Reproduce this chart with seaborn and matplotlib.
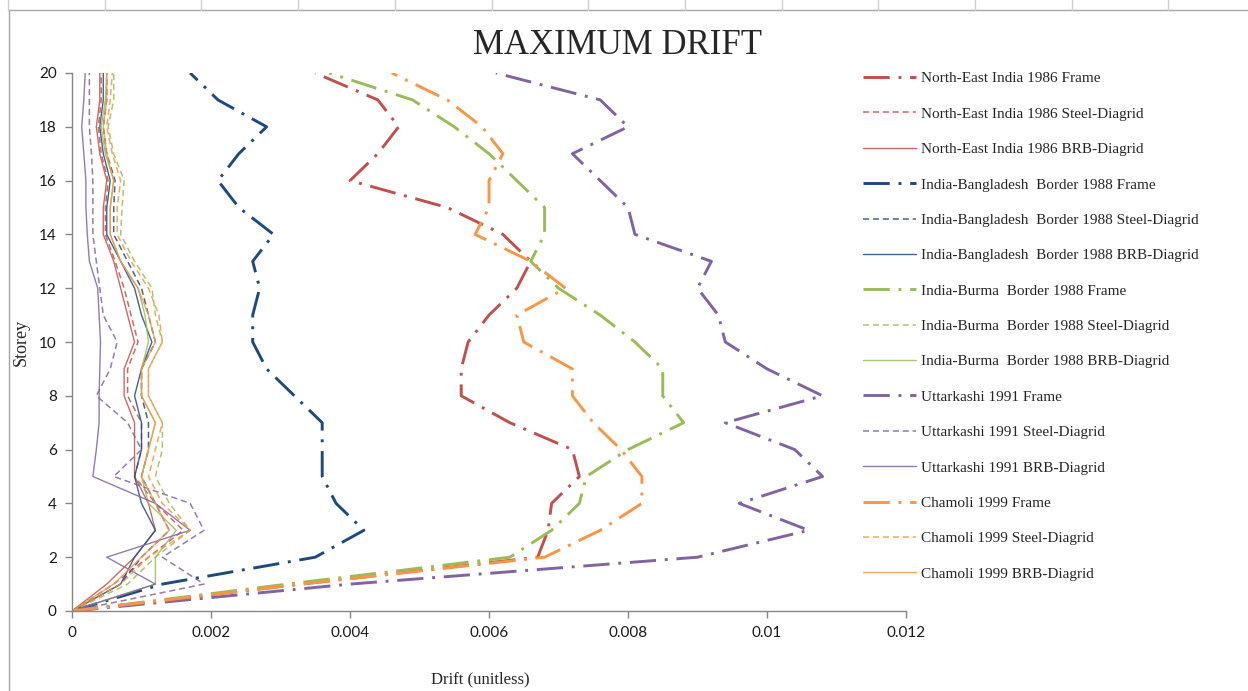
import numpy as np
import pandas as pd
import seaborn as sns
from matplotlib import pyplot as plt
from matplotlib.lines import Line2D
from matplotlib.ticker import FuncFormatter

# Storey levels (y axis)
storey = list(range(21))

# Frame (large drift) series
ne_frame = [0, 0.0033, 0.0067, 0.00685, 0.0069, 0.0073, 0.0072, 0.0063, 0.0056, 0.0056, 0.0057,
            0.0060, 0.0064, 0.0066, 0.0062, 0.0054, 0.0040, 0.0044, 0.0047, 0.0044, 0.0035]
ib_frame = [0, 0.0013, 0.0035, 0.0042, 0.0038, 0.0036, 0.0036, 0.0036, 0.0032, 0.0028, 0.0026,
            0.0026, 0.0027, 0.0026, 0.0029, 0.0024, 0.0021, 0.0024, 0.0028, 0.0021, 0.0017]
burma_frame = [0, 0.0031, 0.0063, 0.0069, 0.0073, 0.0074, 0.0080, 0.0088, 0.0085, 0.0085, 0.0081,
               0.0076, 0.0070, 0.0066, 0.0068, 0.0068, 0.0064, 0.0060, 0.0055, 0.0049, 0.0037]
utt_frame = [0, 0.0040, 0.0090, 0.0106, 0.0096, 0.0108, 0.0104, 0.0094, 0.0108, 0.0100, 0.0094,
             0.0093, 0.0090, 0.0092, 0.0081, 0.0080, 0.0076, 0.0072, 0.0080, 0.0076, 0.0061]
cham_frame = [0, 0.0033, 0.0068, 0.0076, 0.0082, 0.0082, 0.0079, 0.0075, 0.0072, 0.0072, 0.0065,
              0.0064, 0.0071, 0.0066, 0.0058, 0.0060, 0.0060, 0.0062, 0.0059, 0.0054, 0.0046]

# Steel-Diagrid series
ne_steel = [0, 0.0006, 0.0011, 0.0016, 0.0012, 0.0009, 0.0010, 0.0010, 0.0008, 0.0008, 0.00095,
            0.00085, 0.00075, 0.00062, 0.00048, 0.00048, 0.00052, 0.00042, 0.00038, 0.00042, 0.00042]
ib_steel = [0, 0.0007, 0.0010, 0.0014, 0.0012, 0.0010, 0.0011, 0.0011, 0.0010, 0.0010, 0.0012,
            0.0011, 0.0010, 0.0008, 0.0006, 0.0006, 0.00062, 0.0005, 0.00045, 0.0005, 0.0005]
burma_steel = [0, 0.0008, 0.0012, 0.0017, 0.0014, 0.0012, 0.0013, 0.0013, 0.0011, 0.0011, 0.0013,
               0.0012, 0.00115, 0.0009, 0.0007, 0.00072, 0.00075, 0.0006, 0.00052, 0.0006, 0.0006]
utt_steel = [0, 0.0019, 0.0013, 0.0019, 0.0017, 0.0006, 0.0010, 0.0008, 0.00035, 0.00055, 0.00065,
             0.00045, 0.0004, 0.00035, 0.0003, 0.0003, 0.0003, 0.00028, 0.00025, 0.00025, 0.00025]
cham_steel = [0, 0.0007, 0.0011, 0.0017, 0.0013, 0.0011, 0.0012, 0.0013, 0.0011, 0.0011, 0.0013,
              0.00125, 0.0011, 0.00085, 0.00065, 0.00065, 0.0007, 0.00058, 0.0005, 0.00055, 0.00058]

# BRB-Diagrid series
ne_brb = [0, 0.0005, 0.0009, 0.0012, 0.0011, 0.0009, 0.0009, 0.0009, 0.00075, 0.00075, 0.0009,
          0.0008, 0.0007, 0.0006, 0.00045, 0.00045, 0.0005, 0.0004, 0.00035, 0.0004, 0.0004]
ib_brb = [0, 0.0007, 0.0009, 0.0012, 0.0010, 0.0009, 0.0010, 0.0010, 0.0009, 0.0010, 0.00115,
          0.0010, 0.0009, 0.0007, 0.0005, 0.0005, 0.00055, 0.00045, 0.0004, 0.00045, 0.00045]
burma_brb = [0, 0.0012, 0.0012, 0.0015, 0.0011, 0.0010, 0.0011, 0.0012, 0.0010, 0.0010, 0.0011,
             0.00105, 0.00095, 0.0007, 0.00055, 0.00055, 0.0006, 0.00048, 0.00042, 0.00048, 0.0005]
utt_brb = [0, 0.0012, 0.0005, 0.0017, 0.0012, 0.0003, 0.00035, 0.00039, 0.00039, 0.0004, 0.00041,
           0.00039, 0.00037, 0.00025, 0.00022, 0.0002, 0.0002, 0.00017, 0.00014, 0.00017, 0.00019]
cham_brb = [0, 0.0006, 0.0010, 0.0014, 0.0012, 0.0010, 0.0011, 0.0012, 0.0010, 0.0010, 0.0012,
            0.0011, 0.00095, 0.0007, 0.00055, 0.00055, 0.0006, 0.0005, 0.00045, 0.0005, 0.0005]

regions = ["North-East India 1986", "India-Bangladesh  Border 1988", "India-Burma  Border 1988",
           "Uttarkashi 1991", "Chamoli 1999"]
systems = ["Frame", "Steel-Diagrid", "BRB-Diagrid"]
region_colors = ["#C0504D", "#1F497D", "#9BBB59", "#8064A2", "#F79646"]
values = [
    [ne_frame, ne_steel, ne_brb],
    [ib_frame, ib_steel, ib_brb],
    [burma_frame, burma_steel, burma_brb],
    [utt_frame, utt_steel, utt_brb],
    [cham_frame, cham_steel, cham_brb],
]

styles = {
    "Frame": dict(lw=2.1, linestyle=(0, (9, 3, 1, 3)), alpha=1.0),
    "Steel-Diagrid": dict(lw=1.1, linestyle=(0, (4, 2.5)), alpha=0.85),
    "BRB-Diagrid": dict(lw=1.0, linestyle="-", alpha=0.85),
}

sns.set_style("ticks")
plt.rcParams["font.family"] = ["Liberation Serif", "DejaVu Serif"]

W, H = 1248, 691
fig = plt.figure(figsize=(W / 100, H / 100), dpi=100)
ax = fig.add_axes([72 / W, 1 - 611 / H, (906 - 72) / W, (611 - 73) / H])

for region, color, vals in zip(regions, region_colors, values):
    for system, v in zip(systems, vals):
        df = pd.DataFrame({"drift": v, "storey": storey})
        sns.lineplot(data=df, x="drift", y="storey", orient="y", sort=False, estimator=None,
                     color=color, ax=ax, label="{} {}".format(region, system), **styles[system])

ax.set_xlim(0, 0.012)
ax.set_ylim(0, 20)
ax.set_xticks(np.arange(0, 0.0121, 0.002))
ax.set_yticks(range(0, 21, 2))
ax.xaxis.set_major_formatter(FuncFormatter(lambda x, p: "{:g}".format(round(x, 4))))
for side in ["top", "right"]:
    ax.spines[side].set_visible(False)
for side in ["left", "bottom"]:
    ax.spines[side].set_color("#868686")
    ax.spines[side].set_linewidth(1.0)
ax.tick_params(direction="out", length=5, width=1, color="#868686", labelsize=11,
               labelcolor="#1a1a1a", pad=6)
for lbl in ax.get_xticklabels() + ax.get_yticklabels():
    lbl.set_fontfamily(["Lato", "DejaVu Sans"])

ax.set_xlabel("Drift (unitless)", fontsize=12)
ax.xaxis.set_label_coords((480 - 72) / 834, (611 - 671) / 538)
ax.set_ylabel("Storey", fontsize=13)
ax.yaxis.set_label_coords((30 - 72) / 834, 0.5)

handles, labels = ax.get_legend_handles_labels()
ax.legend(handles, labels, loc="upper left", bbox_to_anchor=(855 / W, 1 - 64 / H),
          bbox_transform=fig.transFigure, frameon=False, fontsize=11, borderpad=0,
          labelspacing=1.42, handlelength=3.5, handletextpad=0.35)

fig.text(0.495, 1 - 46 / H, "MAXIMUM DRIFT", ha="center", va="center", fontsize=25)

# worksheet border around the chart
fig.add_artist(Line2D([9 / W, 9 / W], [0, 1 - 10 / H], transform=fig.transFigure,
                      color="#a6a6a6", lw=1))
fig.add_artist(Line2D([9 / W, 1], [1 - 10 / H, 1 - 10 / H], transform=fig.transFigure,
                      color="#a6a6a6", lw=1))
for k in range(13):
    xp = (8 + 96.7 * k) / W
    fig.add_artist(Line2D([xp, xp], [1 - 10 / H, 1], transform=fig.transFigure,
                          color="#d0d0d0", lw=1))

fig.savefig("out.png", dpi=100)
